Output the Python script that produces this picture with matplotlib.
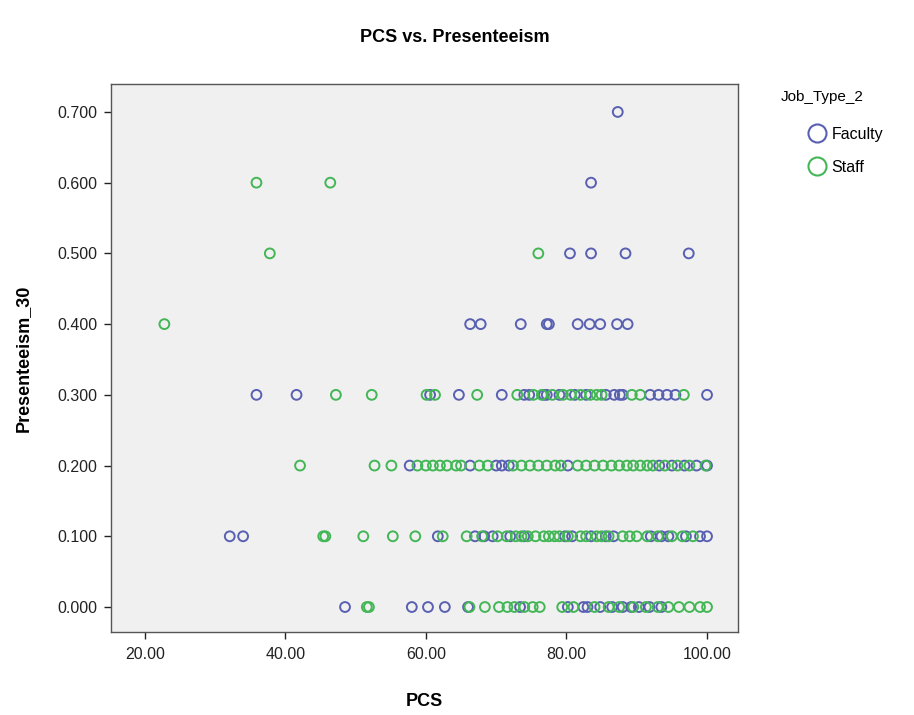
import matplotlib
matplotlib.use('Agg')
import matplotlib.pyplot as plt
from matplotlib.lines import Line2D
from matplotlib.ticker import FormatStrFormatter

plt.rcParams['font.family'] = ['Liberation Sans', 'DejaVu Sans']

# PCS scores of faculty, grouped by presenteeism level
faculty_000 = [48.5, 58.0, 60.3, 62.7, 66.0, 73.4, 80.2, 82.4, 83.0, 84.8, 86.5,
               88.0, 89.2, 90.3, 91.8, 93.5]
faculty_010 = [32.1, 34.0, 61.7, 67.0, 68.3, 69.5, 72.0, 74.0, 79.8, 80.8, 83.5,
               85.6, 86.7, 92.0, 93.5, 94.5, 97.0, 99.0, 100.0]
faculty_020 = [57.7, 66.3, 70.0, 70.8, 71.8, 80.2, 93.2, 95.0, 96.8, 98.5, 100.0]
faculty_030 = [35.9, 41.6, 60.6, 64.7, 70.8, 74.0, 74.7, 76.8, 77.2, 79.0, 81.2,
               82.8, 85.6, 86.8, 87.6, 88.0, 91.9, 93.1, 94.3, 95.5, 100.0]
faculty_040 = [66.3, 67.8, 73.5, 77.2, 77.5, 81.6, 83.3, 84.8, 87.2, 88.7]
faculty_050 = [80.5, 83.5, 88.4, 97.4]
faculty_060 = [83.5]
faculty_070 = [87.3]

# PCS scores of staff, grouped by presenteeism level
staff_000 = [51.6, 51.9, 66.2, 68.4, 70.4, 71.6, 72.6, 74.0, 75.2, 76.2, 79.4,
             81.0, 84.0, 86.0, 87.5, 89.5, 91.3, 93.0, 94.5, 96.0, 97.5, 99.0, 100.0]
staff_010 = [45.4, 45.7, 51.1, 55.3, 58.5, 62.4, 65.8, 68.0, 70.2, 71.5, 72.8,
             73.6, 74.5, 75.6, 76.8, 77.5, 78.3, 79.0, 80.2, 82.0, 82.8, 84.3,
             85.0, 86.0, 88.0, 89.0, 90.0, 91.5, 93.0, 95.0, 96.5, 98.0]
staff_020 = [42.1, 52.7, 55.1, 58.8, 60.0, 61.0, 62.0, 63.0, 64.3, 65.0, 67.6,
             68.8, 72.4, 73.6, 74.8, 76.0, 77.2, 78.4, 79.2, 81.6, 82.8, 84.0,
             85.2, 86.4, 87.5, 88.6, 89.5, 90.5, 91.5, 92.3, 94.0, 95.8, 97.5, 99.8]
staff_030 = [47.2, 52.3, 60.1, 61.3, 67.3, 73.0, 75.3, 76.5, 78.0, 79.5, 80.6,
             82.0, 83.4, 84.3, 85.0, 89.3, 90.5, 96.7]
staff_040 = [22.8]
staff_050 = [37.8, 76.0]
staff_060 = [35.9, 46.4]

levels = [0.0, 0.1, 0.2, 0.3, 0.4, 0.5, 0.6, 0.7]
faculty = [faculty_000, faculty_010, faculty_020, faculty_030, faculty_040,
           faculty_050, faculty_060, faculty_070]
staff = [staff_000, staff_010, staff_020, staff_030, staff_040, staff_050, staff_060]

blue = '#5960b2'
green = '#43b656'

fig = plt.figure(figsize=(9.14, 7.15), dpi=100)
ax = fig.add_axes([0.1214, 0.1161, 0.686, 0.7664])
ax.set_facecolor('#f0f0f0')

for lvl, xs in zip(levels, faculty):
    ax.scatter(xs, [lvl] * len(xs), s=50, facecolors='none', edgecolors=blue,
               linewidths=1.4, zorder=3)
for lvl, xs in zip(levels, staff):
    ax.scatter(xs, [lvl] * len(xs), s=50, facecolors='none', edgecolors=green,
               linewidths=1.4, zorder=3)

ax.set_xlim(15.2, 104.4)
ax.set_ylim(-0.0353, 0.7395)
ax.set_xticks([20, 40, 60, 80, 100])
ax.set_yticks(levels)
ax.xaxis.set_major_formatter(FormatStrFormatter('%.2f'))
ax.yaxis.set_major_formatter(FormatStrFormatter('%.3f'))
ax.tick_params(direction='out', length=5, width=1, labelsize=11.5, colors='#222222')
ax.tick_params(axis='y', pad=5)
ax.tick_params(axis='x', pad=6)
for sp in ax.spines.values():
    sp.set_color('#555555')
    sp.set_linewidth(1)

ax.set_xlabel('PCS', fontsize=13, fontweight='bold', labelpad=22)
ax.set_ylabel('Presenteeism_30', fontsize=13, fontweight='bold', labelpad=18)
fig.text(0.498, 0.947, 'PCS vs. Presenteeism', ha='center', va='center',
         fontsize=13, fontweight='bold')

# legend: title placed on its own, entries indented below it
fig.text(0.854, 0.864, 'Job_Type_2', ha='left', va='center', fontsize=11)
handles = [Line2D([], [], marker='o', ls='none', ms=13, mfc='none', mec=blue, mew=1.5),
           Line2D([], [], marker='o', ls='none', ms=13, mfc='none', mec=green, mew=1.5)]
fig.legend(handles, ['Faculty', 'Staff'], loc='upper left',
           bbox_to_anchor=(0.875, 0.832), frameon=False, fontsize=11.5,
           handlelength=1.4, handletextpad=0.2, labelspacing=1.15,
           borderaxespad=0)

fig.savefig('out.png', dpi=100)
